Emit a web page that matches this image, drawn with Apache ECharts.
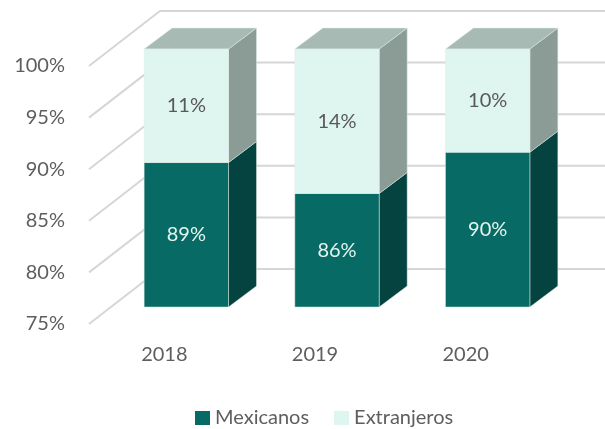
<!DOCTYPE html>
<html>
<head>
<meta charset="utf-8">
<script src="https://cdn.jsdelivr.net/npm/echarts@6/dist/echarts.min.js"></script>
<style>
  html, body { margin: 0; padding: 0; background: #fff; }
  #chart { width: 605px; height: 429px; }
</style>
</head>
<body>
<div id="chart"></div>
<script>
// data
var years = ["2018", "2019", "2020"];
var mexicanos = [89, 86, 90];
var extranjeros = [11, 14, 10];
var yTicks = [75, 80, 85, 90, 95, 100];

var AXIS_MIN = 75;
// oblique projection: full wall depth and bar depth / bar front position
var WALL = [71, -55];
var BAR_FRONT = [22, -17];
var BAR_DEPTH = [28, -21];

var colors = {
  mexFront: "#086A64", mexSide: "#04433F", mexTop: "#2E7A74",
  extFront: "#DFF5EF", extSide: "#8B9C96", extTop: "#A7BAB3"
};
var textColor = "#5E5E5E";
var fontFam = "Lato, 'Open Sans', sans-serif";

var chart = echarts.init(document.getElementById("chart"));

function renderWalls(params, api) {
  var cs = params.coordSys;
  var children = [];
  yTicks.forEach(function (v) {
    var y = api.coord([0, v])[1];
    var x0 = cs.x;
    var x1 = cs.x + WALL[0];
    var y1 = y + WALL[1];
    children.push({
      type: "polyline",
      shape: { points: [[x0, y], [x1, y1], [605, y1]] },
      style: { stroke: "#D6D6D6", lineWidth: 2, fill: null }
    });
  });
  return { type: "group", children: children };
}

function makeBarRenderer(front, side, top, drawTop, label, labelColor) {
  return function (params, api) {
    var idx = api.value(0);
    var lo = api.coord([idx, api.value(1)]);
    var hi = api.coord([idx, api.value(2)]);
    var w = api.size([1, 0])[0] * 0.56;
    var l = lo[0] - w / 2 + BAR_FRONT[0];
    var r = lo[0] + w / 2 + BAR_FRONT[0];
    var yb = lo[1] + BAR_FRONT[1];
    var yt = hi[1] + BAR_FRONT[1];
    var dx = BAR_DEPTH[0], dy = BAR_DEPTH[1];
    var edge = { stroke: "rgba(225,235,232,0.6)", lineWidth: 0.8 };
    var children = [
      {
        type: "polygon",
        shape: { points: [[r, yt], [r + dx, yt + dy], [r + dx, yb + dy], [r, yb]] },
        style: Object.assign({ fill: side }, edge)
      },
      {
        type: "rect",
        shape: { x: l, y: yt, width: r - l, height: yb - yt },
        style: Object.assign({ fill: front }, edge)
      },
      {
        type: "text",
        x: (l + r) / 2,
        y: (yt + yb) / 2,
        style: {
          text: label[idx] + "%",
          fill: labelColor,
          font: "20px " + fontFam,
          align: "center",
          verticalAlign: "middle"
        }
      }
    ];
    if (drawTop) {
      children.splice(1, 0, {
        type: "polygon",
        shape: { points: [[l, yt], [l + dx, yt + dy], [r + dx, yt + dy], [r, yt]] },
        style: Object.assign({ fill: top }, edge)
      });
    }
    return { type: "group", children: children };
  };
}

var mexData = years.map(function (y, i) { return [i, AXIS_MIN, mexicanos[i]]; });
var extData = years.map(function (y, i) { return [i, mexicanos[i], mexicanos[i] + extranjeros[i]]; });

chart.setOption({
  animation: false,
  textStyle: { fontFamily: fontFam },
  grid: { left: 89, top: 66, width: 452, height: 258 },
  legend: {
    left: 190,
    top: 403,
    itemWidth: 15,
    itemHeight: 14,
    itemGap: 25,
    icon: "rect",
    textStyle: { color: textColor, fontSize: 20 },
    data: ["Mexicanos", "Extranjeros"]
  },
  xAxis: {
    type: "category",
    data: years,
    axisLine: { show: false },
    axisTick: { show: false },
    axisLabel: { color: textColor, fontSize: 20, margin: 21 }
  },
  yAxis: {
    type: "value",
    min: 75,
    max: 100,
    interval: 5,
    axisLine: { show: false },
    axisTick: { show: false },
    splitLine: { show: false },
    axisLabel: { color: textColor, fontSize: 20, margin: 24, formatter: "{value}%" }
  },
  series: [
    {
      name: "walls",
      type: "custom",
      renderItem: renderWalls,
      data: [[0, 75]],
      z: 1,
      silent: true
    },
    {
      name: "Mexicanos",
      type: "custom",
      itemStyle: { color: colors.mexFront },
      renderItem: makeBarRenderer(colors.mexFront, colors.mexSide, colors.mexTop, false, mexicanos, "#E4F5F0"),
      encode: { x: 0, y: [1, 2] },
      data: mexData,
      z: 3
    },
    {
      name: "Extranjeros",
      type: "custom",
      itemStyle: { color: colors.extFront },
      renderItem: makeBarRenderer(colors.extFront, colors.extSide, colors.extTop, true, extranjeros, "#595959"),
      encode: { x: 0, y: [1, 2] },
      data: extData,
      z: 3
    }
  ]
});
</script>
</body>
</html>
